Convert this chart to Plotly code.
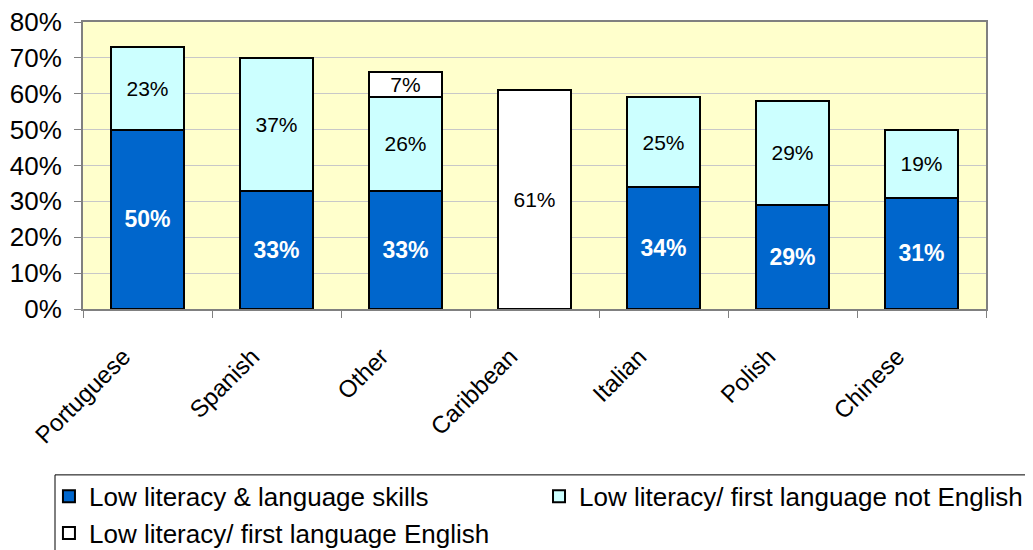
import plotly.graph_objects as go

categories = ["Portuguese", "Spanish", "Other", "Caribbean", "Italian", "Polish", "Chinese"]
low_lit_lang = [50, 33, 33, 0, 34, 29, 31]
low_lit_not_english = [23, 37, 26, 0, 25, 29, 19]
low_lit_english = [0, 0, 7, 61, 0, 0, 0]

series_names = [
    "Low literacy & language skills",
    "Low literacy/ first language not English",
    "Low literacy/ first language English",
]
y_ticks = [0, 10, 20, 30, 40, 50, 60, 70, 80]
y_tick_text = [f"{v}%" for v in y_ticks]

FONT = "Liberation Sans, Arial, sans-serif"


def labels(vals):
    return [f"{v}%" if v else "" for v in vals]


fig = go.Figure()
specs = [
    (low_lit_lang, "#0066CC", dict(color="white", size=23, family=FONT, weight="bold"), "legend", "g1"),
    (low_lit_not_english, "#CCFFFF", dict(color="black", size=21, family=FONT), "legend2", "g2"),
    (low_lit_english, "#FFFFFF", dict(color="black", size=21, family=FONT), "legend", "g3"),
]
for name, (vals, color, tf, leg, grp) in zip(series_names, specs):
    fig.add_trace(go.Bar(
        x=categories, y=vals, name=name, legend=leg, legendgroup=grp,
        marker=dict(color=color, line=dict(color="black", width=2)),
        text=labels(vals), textposition="inside", insidetextanchor="middle",
        textangle=0, constraintext="none", textfont=tf,
        hoverinfo="skip",
    ))

legend_common = dict(
    orientation="v", yanchor="top", xanchor="left",
    borderwidth=0, bgcolor="rgba(0,0,0,0)",
    font=dict(family=FONT, size=26, color="black"),
    traceorder="normal", tracegroupgap=8,
)

fig.update_layout(
    width=1025, height=542,
    barmode="stack", bargap=0.44,
    paper_bgcolor="white", plot_bgcolor="#FFFFCC",
    margin=dict(l=75, r=47, t=14, b=241, autoexpand=False),
    font=dict(family=FONT, size=24, color="black"),
    showlegend=True,
    legend=dict(x=-0.0377, y=-0.571, **legend_common),
    legend2=dict(x=0.505, y=-0.571, **legend_common),
    shapes=[dict(
        type="rect", xref="paper", yref="paper",
        x0=-0.031, x1=1.2, y0=-0.578, y1=-0.9,
        line=dict(color="black", width=1), fillcolor="white", layer="below",
    )],
    xaxis=dict(
        tickangle=-45, ticks="outside", ticklen=7, tickcolor="#808080",
        tickson="boundaries", showline=True, linecolor="#808080", linewidth=2,
        mirror=True, tickfont=dict(size=24), showgrid=False,
        ticklabelstandoff=22, ticklabelshift=-24,
    ),
    yaxis=dict(
        range=[0, 80], tickvals=y_ticks, ticktext=y_tick_text,
        ticks="outside", ticklen=7, tickcolor="#808080",
        showline=True, linecolor="#808080", linewidth=2, mirror=True,
        gridcolor="#C8C8C8", gridwidth=1, tickfont=dict(size=26),
        zeroline=False, ticklabelstandoff=7, ticklabeloverflow="allow",
    ),
)

fig.write_html("out.html")
